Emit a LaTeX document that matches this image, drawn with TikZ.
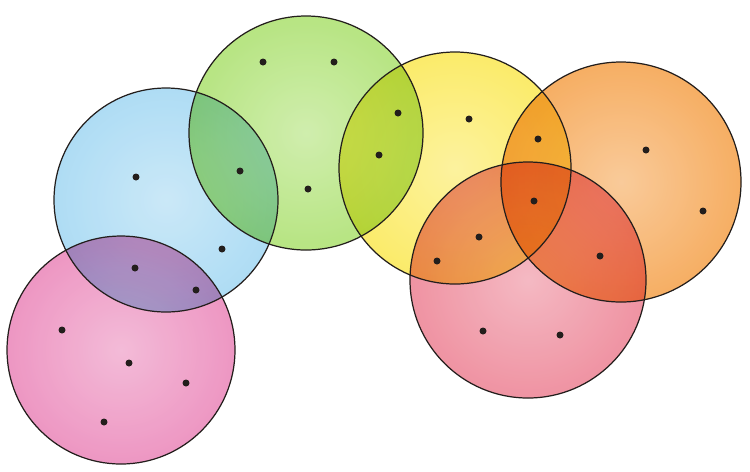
\documentclass[tikz,border=0pt]{standalone}
\usepackage{tikz}
\usepackage{color,xcolor}
\definecolor{pinkdisc}{RGB}{234,132,184}
\definecolor{bluedisc}{RGB}{160,214,242}
\definecolor{greendisc}{RGB}{170,224,108}
\definecolor{yellowdisc}{RGB}{250,232,80}
\definecolor{orangedisc}{RGB}{245,160,72}
\definecolor{reddisc}{RGB}{236,128,146}
\definecolor{pencil}{RGB}{35,30,28}

\begin{document}
\begin{tikzpicture}[x=0.02cm,y=-0.02cm,
    rim/.style={draw=pencil,line width=0.7pt},
    dot/.style={fill=pencil}]
    \useasboundingbox (0,0) rectangle (750,471);
    \begin{scope}[blend group=multiply]
    \foreach \name/\cx/\cy/\r/\col in {pink/121/350/114/pinkdisc, blue/166/200/112/bluedisc,
        green/306/133/117/greendisc, yellow/455/168/116/yellowdisc,
        orange/621/182/120/orangedisc, red/528/280/118/reddisc}
        \shade[inner color=\col!65, outer color=\col, opacity=0.85] (\cx,\cy) coordinate (\name) circle (\r);
    \end{scope}
    \draw[rim] (pink) circle (114);
    \draw[rim] (blue) circle (112);
    \draw[rim] (green) circle (117);
    \draw[rim] (yellow) circle (116);
    \draw[rim] (orange) circle (120);
    \draw[rim] (red) circle (118);
    \foreach \px/\py in {263/62, 334/62, 240/171, 308/189, 136/177, 222/249, 135/268, 196/290,
        62/330, 129/363, 186/383, 104/422, 398/113, 469/119, 379/155,
        538/139, 646/150, 703/211, 534/201, 479/237, 437/261, 600/256, 483/331, 560/335}
        \fill[dot] (\px,\py) circle (3.5);
\end{tikzpicture}
\end{document}
